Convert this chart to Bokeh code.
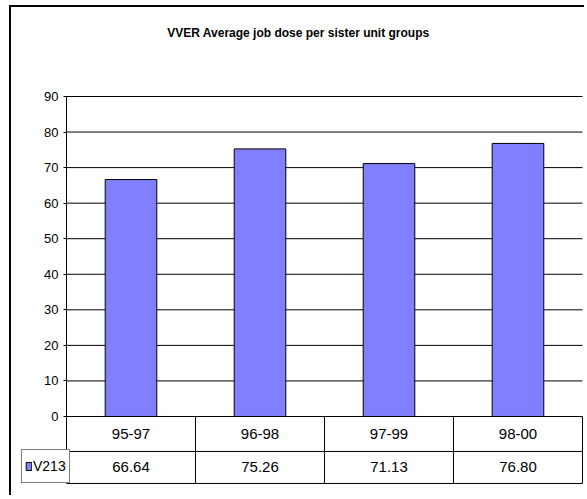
from bokeh.plotting import figure
from bokeh.models import Range1d, FixedTicker, Legend, LegendItem, ColumnDataSource
from bokeh.core.properties import value
from bokeh.embed import file_html
from bokeh.resources import INLINE

# ---- data ----
categories = ["95-97", "96-98", "97-99", "98-00"]
v213 = [66.64, 75.26, 71.13, 76.80]
series_name = "V213"
y_ticks = [0, 10, 20, 30, 40, 50, 60, 70, 80, 90]
title_text = "VVER Average job dose per sister unit groups"

FONT = "Liberation Sans"
n = len(categories)
xs = [i + 0.5 for i in range(n)]

ROW1 = -9.84    # line between category row and value row
ROW2 = -18.84   # bottom of table
TITLE_X = 1.798
TITLE_Y = 107.72

p = figure(width=575, height=490, output_backend="svg", toolbar_location=None,
           x_range=Range1d(-0.3566, 4.0078), y_range=Range1d(-19.41, 115.03),
           x_axis_location=None, min_border_left=9, min_border_right=3,
           min_border_top=0, min_border_bottom=12)
p.styles = {"margin-left": "9px", "margin-top": "5px",
            "border-left": "2px solid black", "border-top": "2px solid black"}
p.outline_line_color = None
p.background_fill_color = "white"
p.border_fill_color = "white"

ya = p.yaxis[0]
ya.fixed_location = 0
ya.bounds = (ROW2, 90)
ya.ticker = FixedTicker(ticks=y_ticks)
ya.major_tick_in = 0
ya.major_tick_out = 3
ya.minor_tick_line_color = None
ya.axis_line_color = "black"
ya.major_tick_line_color = "black"
ya.major_label_text_font = FONT
ya.major_label_text_font_size = "13px"
ya.major_label_text_color = "black"
ya.major_label_standoff = 5

p.xgrid.visible = False
p.ygrid.visible = False

# chart title
p.text(x=[TITLE_X], y=[TITLE_Y], text=[title_text], text_font=value(FONT),
       text_font_size="12px", text_font_style="bold", text_align="center",
       text_baseline="middle", text_color="black")

# horizontal gridlines across the category area
p.segment(x0=[0] * len(y_ticks), y0=y_ticks, x1=[n] * len(y_ticks), y1=y_ticks,
          line_color="black", line_width=1)

bars = p.vbar(x=xs, top=v213, width=0.4, fill_color="#8080FF",
              line_color="black", line_width=1)

# data table below the plot
p.segment(x0=[0, 0], y0=[ROW1, ROW2], x1=[n, n], y1=[ROW1, ROW2],
          line_color="black", line_width=1)
p.segment(x0=list(range(1, n + 1)), y0=[0] * n, x1=list(range(1, n + 1)),
          y1=[ROW2] * n, line_color="black", line_width=1)

cat_src = ColumnDataSource(dict(x=xs, y=[ROW1 / 2] * n, t=categories))
p.text(x="x", y="y", text="t", source=cat_src, text_font=value(FONT),
       text_font_size="15px", text_align="center", text_baseline="middle",
       text_color="black")
val_src = ColumnDataSource(dict(x=xs, y=[(ROW1 + ROW2) / 2] * n,
                                t=["%.2f" % v for v in v213]))
p.text(x="x", y="y", text="t", source=val_src, text_font=value(FONT),
       text_font_size="15px", text_align="center", text_baseline="middle",
       text_color="black")

legend = Legend(items=[LegendItem(label=series_name, renderers=[bars])],
                location=(1, 2), orientation="vertical",
                border_line_color="black", border_line_width=1,
                background_fill_color="white", background_fill_alpha=1,
                padding=3, margin=0, spacing=0, label_standoff=1,
                glyph_width=7, glyph_height=10, label_width=32,
                label_height=26, label_text_font=FONT,
                label_text_font_size="14px", label_text_color="black")
p.add_layout(legend)

open("out.html", "w").write(file_html(p, INLINE))
